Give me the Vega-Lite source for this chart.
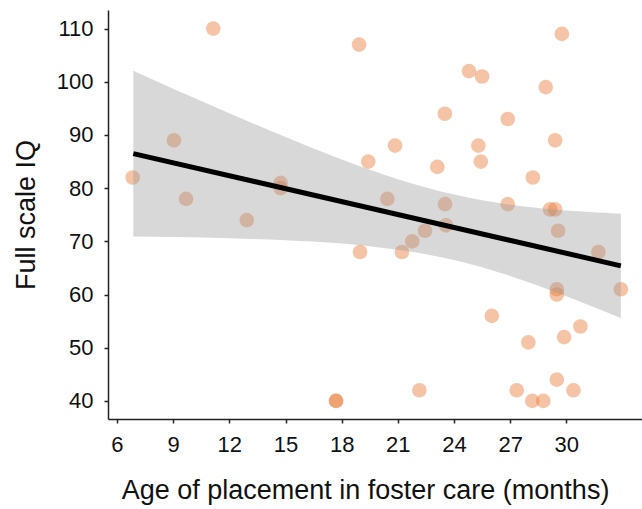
{
  "$schema": "https://vega.github.io/schema/vega-lite/v6.json",
  "width": 534,
  "height": 409,
  "autosize": "none",
  "padding": {"left": 108, "top": 10, "right": 0, "bottom": 90},
  "background": "white",
  "config": {"view": {"stroke": null}, "font": "Liberation Sans"},
  "datasets": {
    "pts": [
      {"age": 6.84, "iq": 82}, {"age": 9.04, "iq": 89}, {"age": 9.69, "iq": 78}, {"age": 11.14, "iq": 110},
      {"age": 12.93, "iq": 74}, {"age": 14.74, "iq": 81}, {"age": 14.74, "iq": 80}, {"age": 17.7, "iq": 40},
      {"age": 17.7, "iq": 40}, {"age": 18.93, "iq": 107}, {"age": 18.98, "iq": 68}, {"age": 19.42, "iq": 85},
      {"age": 20.44, "iq": 78}, {"age": 20.85, "iq": 88}, {"age": 21.22, "iq": 68}, {"age": 21.77, "iq": 70},
      {"age": 22.15, "iq": 42}, {"age": 22.45, "iq": 72}, {"age": 23.11, "iq": 84}, {"age": 23.51, "iq": 94},
      {"age": 23.52, "iq": 77}, {"age": 23.57, "iq": 73}, {"age": 24.8, "iq": 102}, {"age": 25.3, "iq": 88},
      {"age": 25.43, "iq": 85}, {"age": 25.5, "iq": 101}, {"age": 26.02, "iq": 56}, {"age": 26.87, "iq": 93},
      {"age": 26.87, "iq": 77}, {"age": 27.35, "iq": 42}, {"age": 27.97, "iq": 51}, {"age": 28.21, "iq": 82},
      {"age": 28.18, "iq": 40}, {"age": 28.77, "iq": 40}, {"age": 28.9, "iq": 99}, {"age": 29.13, "iq": 76},
      {"age": 29.4, "iq": 76}, {"age": 29.4, "iq": 89}, {"age": 29.49, "iq": 61}, {"age": 29.49, "iq": 60},
      {"age": 29.49, "iq": 44}, {"age": 29.56, "iq": 72}, {"age": 29.76, "iq": 109}, {"age": 29.88, "iq": 52},
      {"age": 30.38, "iq": 42}, {"age": 30.75, "iq": 54}, {"age": 31.71, "iq": 68}, {"age": 32.91, "iq": 61}
    ],
    "band": [
      {"age": 6.87, "lo": 70.9, "hi": 102.1}, {"age": 9, "lo": 70.8, "hi": 98.7},
      {"age": 12, "lo": 70.6, "hi": 94.1}, {"age": 15, "lo": 70.2, "hi": 89.6},
      {"age": 18, "lo": 69.6, "hi": 85.4}, {"age": 21, "lo": 68.4, "hi": 81.7},
      {"age": 24, "lo": 66.5, "hi": 78.8}, {"age": 27, "lo": 63.5, "hi": 76.9},
      {"age": 30, "lo": 59.7, "hi": 75.8}, {"age": 32.91, "lo": 55.6, "hi": 75.2}
    ],
    "fit": [
      {"age": 6.87, "iq": 86.5}, {"age": 32.91, "iq": 65.4}
    ]
  },
  "layer": [
    {
      "data": {"name": "pts"},
      "mark": {"type": "circle", "size": 215, "color": "#E8732A", "opacity": 0.42},
      "encoding": {
        "x": {
          "field": "age", "type": "quantitative",
          "scale": {"domain": [5.52, 34.04], "nice": false, "zero": false},
          "axis": {
            "values": [6, 9, 12, 15, 18, 21, 24, 27, 30],
            "title": "Age of placement in foster care (months)",
            "grid": false, "domainColor": "#222", "domainWidth": 1.5,
            "tickColor": "#222", "tickSize": 4, "tickWidth": 1.5,
            "labelFontSize": 22, "labelColor": "#111", "labelPadding": 11,
            "titleFontSize": 27, "titleFontWeight": "normal", "titleColor": "#111", "titlePadding": 22,
            "titleX": 257
          }
        },
        "y": {
          "field": "iq", "type": "quantitative",
          "scale": {"domain": [36.6, 113.5], "nice": false, "zero": false},
          "axis": {
            "values": [40, 50, 60, 70, 80, 90, 100, 110],
            "title": "Full scale IQ",
            "grid": false, "domainColor": "#222", "domainWidth": 1.5,
            "tickColor": "#222", "tickSize": 4, "tickWidth": 1.5,
            "labelFontSize": 22, "labelColor": "#111", "labelPadding": 11,
            "titleFontSize": 27, "titleFontWeight": "normal", "titleColor": "#111", "titlePadding": 16
          }
        }
      }
    },
    {
      "data": {"name": "band"},
      "mark": {"type": "area", "color": "#999999", "opacity": 0.38, "interpolate": "monotone"},
      "encoding": {
        "x": {"field": "age", "type": "quantitative"},
        "y": {"field": "lo", "type": "quantitative"},
        "y2": {"field": "hi"}
      }
    },
    {
      "data": {"name": "fit"},
      "mark": {"type": "line", "color": "black", "strokeWidth": 5},
      "encoding": {
        "x": {"field": "age", "type": "quantitative"},
        "y": {"field": "iq", "type": "quantitative"}
      }
    }
  ]
}
